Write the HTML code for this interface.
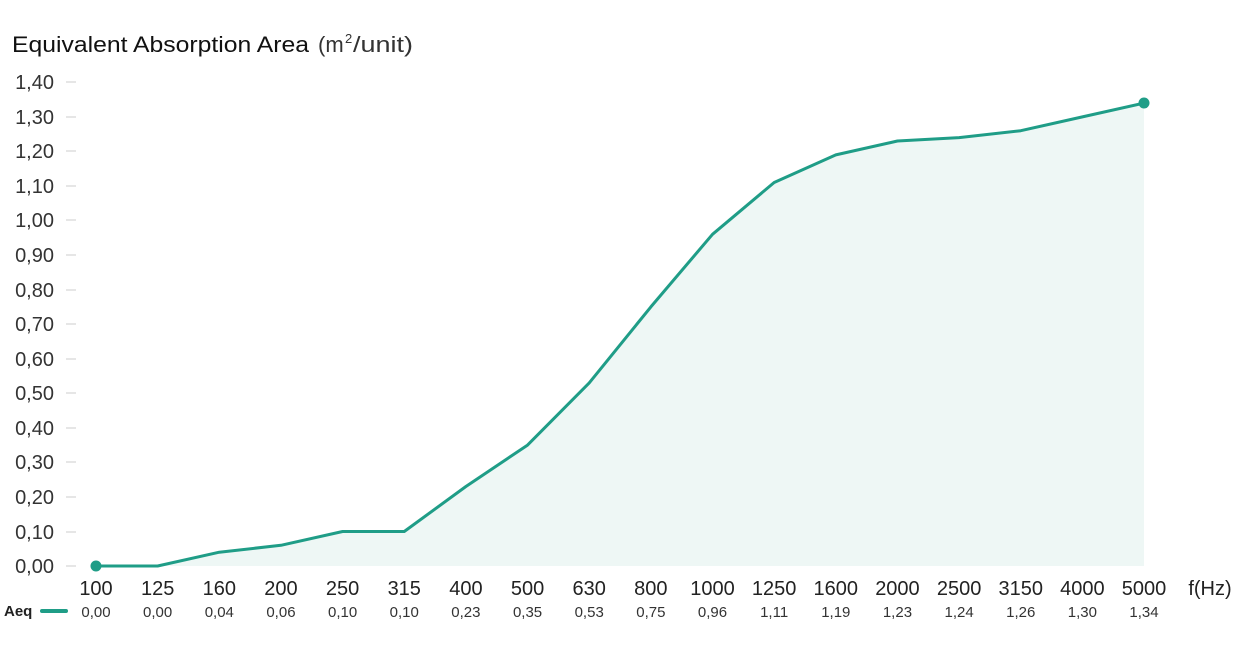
<!DOCTYPE html>
<html><head><meta charset="utf-8"><style>
html,body{margin:0;padding:0;background:#fff;}
svg{display:block;font-family:"Liberation Sans",sans-serif;}
</style></head><body>
<svg width="1241" height="650" viewBox="0 0 1241 650">
<text x="12" y="52" font-size="22" fill="#111" textLength="297" lengthAdjust="spacingAndGlyphs">Equivalent Absorption Area</text>
<text x="318" y="52" font-size="22" fill="#333">(m</text>
<text x="345" y="43" font-size="13" fill="#333">2</text>
<text x="353" y="52" font-size="22" fill="#333" textLength="60" lengthAdjust="spacingAndGlyphs">/unit)</text>
<g font-size="20" fill="#333" text-anchor="end">
<text x="54" y="89">1,40</text><text x="54" y="124">1,30</text><text x="54" y="158">1,20</text><text x="54" y="193">1,10</text><text x="54" y="227">1,00</text><text x="54" y="262">0,90</text><text x="54" y="297">0,80</text><text x="54" y="331">0,70</text><text x="54" y="366">0,60</text><text x="54" y="400">0,50</text><text x="54" y="435">0,40</text><text x="54" y="469">0,30</text><text x="54" y="504">0,20</text><text x="54" y="539">0,10</text><text x="54" y="573">0,00</text>
</g>
<g stroke="#ccc" stroke-width="1">
<line x1="66" x2="76" y1="82" y2="82"/><line x1="66" x2="76" y1="117" y2="117"/><line x1="66" x2="76" y1="151" y2="151"/><line x1="66" x2="76" y1="186" y2="186"/><line x1="66" x2="76" y1="220" y2="220"/><line x1="66" x2="76" y1="255" y2="255"/><line x1="66" x2="76" y1="290" y2="290"/><line x1="66" x2="76" y1="324" y2="324"/><line x1="66" x2="76" y1="359" y2="359"/><line x1="66" x2="76" y1="393" y2="393"/><line x1="66" x2="76" y1="428" y2="428"/><line x1="66" x2="76" y1="462" y2="462"/><line x1="66" x2="76" y1="497" y2="497"/><line x1="66" x2="76" y1="532" y2="532"/><line x1="66" x2="76" y1="566" y2="566"/>
</g>
<path d="M96,566 L157.65,566 L219.3,552.2 L280.95,545.3 L342.6,531.5 L404.25,531.5 L465.9,486.5 L527.55,445.1 L589.2,382.9 L650.85,306.9 L712.5,234.3 L774.15,182.5 L835.8,154.9 L897.45,141 L959.1,137.6 L1020.75,130.7 L1082.4,116.9 L1144,103.1 L1144,566 Z" fill="#eef7f5"/>
<polyline points="96,566 157.65,566 219.3,552.2 280.95,545.3 342.6,531.5 404.25,531.5 465.9,486.5 527.55,445.1 589.2,382.9 650.85,306.9 712.5,234.3 774.15,182.5 835.8,154.9 897.45,141 959.1,137.6 1020.75,130.7 1082.4,116.9 1144,103.1" fill="none" stroke="#1f9d87" stroke-width="3" stroke-linejoin="round"/>
<circle cx="96" cy="566" r="5.5" fill="#1f9d87"/><circle cx="1144" cy="103" r="5.5" fill="#1f9d87"/>
<g font-size="20" fill="#222" text-anchor="middle">
<text x="96" y="595">100</text><text x="157.65" y="595">125</text><text x="219.3" y="595">160</text><text x="280.95" y="595">200</text><text x="342.6" y="595">250</text><text x="404.25" y="595">315</text><text x="465.9" y="595">400</text><text x="527.55" y="595">500</text><text x="589.2" y="595">630</text><text x="650.85" y="595">800</text><text x="712.5" y="595">1000</text><text x="774.15" y="595">1250</text><text x="835.8" y="595">1600</text><text x="897.45" y="595">2000</text><text x="959.1" y="595">2500</text><text x="1020.75" y="595">3150</text><text x="1082.4" y="595">4000</text><text x="1144" y="595">5000</text>
<text x="1210" y="595">f(Hz)</text>
</g>
<g font-size="15" fill="#333" text-anchor="middle">
<text x="96" y="617">0,00</text><text x="157.65" y="617">0,00</text><text x="219.3" y="617">0,04</text><text x="280.95" y="617">0,06</text><text x="342.6" y="617">0,10</text><text x="404.25" y="617">0,10</text><text x="465.9" y="617">0,23</text><text x="527.55" y="617">0,35</text><text x="589.2" y="617">0,53</text><text x="650.85" y="617">0,75</text><text x="712.5" y="617">0,96</text><text x="774.15" y="617">1,11</text><text x="835.8" y="617">1,19</text><text x="897.45" y="617">1,23</text><text x="959.1" y="617">1,24</text><text x="1020.75" y="617">1,26</text><text x="1082.4" y="617">1,30</text><text x="1144" y="617">1,34</text>
</g>
<text x="4" y="616" font-size="15" font-weight="bold" fill="#222">Aeq</text>
<line x1="42" x2="66" y1="611" y2="611" stroke="#1f9d87" stroke-width="4" stroke-linecap="round"/>
</svg>
</body></html>
